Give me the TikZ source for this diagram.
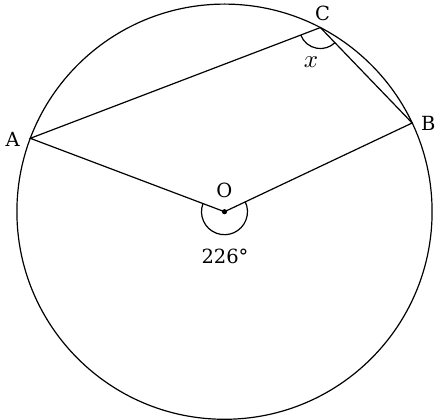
\documentclass[tikz,border=0pt]{standalone}
\usepackage{fontspec}
\setmainfont{DejaVu Serif}
\usetikzlibrary{calc}
\begin{document}
\begin{tikzpicture}[x=1pt,y=1pt,
  geo/.style={line width=1.2pt, black},
  lbl/.style={font=\fontsize{19.5}{23}\selectfont, inner sep=0pt}]
\useasboundingbox (-224.5,-208.3) rectangle (215.5,211.7);
\coordinate (O) at (0,0);
\coordinate (A) at (159.3:207.6);
\coordinate (B) at (25.3:207.6);
\coordinate (C) at (62.5:207.6);
\draw[geo] (O) circle (207.6);
\draw[geo] (A) -- (O) -- (B) -- (C) -- cycle;
\draw[geo] ($(C)+(200.9:21)$) arc (200.9:313.9:21);
\draw[geo] ($(O)+(159.3:23)$) arc (159.3:385.3:23);
\fill (O) circle (2.6);
\node[lbl] (lC) at (98.2,198.4) {C};
\node[inner sep=0pt, scale=2.5] (lx) at (86.5,150) {$x$};
\node[lbl] (lB) at (203.8,88.4) {B};
\node[lbl] (lA) at (-211.8,72.4) {A};
\node[lbl] (lO) at (-0.2,21) {O};
\node[lbl] (la) at (0.5,-44.3) {226°};
\end{tikzpicture}
\end{document}
